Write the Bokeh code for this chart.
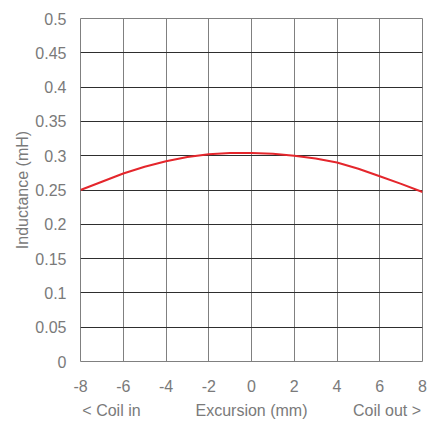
from bokeh.plotting import figure
from bokeh.models import FixedTicker, LinearAxis
from bokeh.embed import file_html
from bokeh.resources import INLINE

# Data
excursion_mm = [-8, -7, -6, -5, -4, -3, -2, -1, 0, 1, 2, 3, 4, 5, 6, 7, 8]
inductance_mh = [0.250, 0.262, 0.274, 0.284, 0.292, 0.298, 0.302, 0.304, 0.304,
                 0.303, 0.300, 0.296, 0.290, 0.281, 0.270, 0.259, 0.247]
x_ticks = [-8, -6, -4, -2, 0, 2, 4, 6, 8]
x_tick_labels = ["-8", "-6", "-4", "-2", "0", "2", "4", "6", "8"]
y_ticks = [0, 0.05, 0.1, 0.15, 0.2, 0.25, 0.3, 0.35, 0.4, 0.45, 0.5]
y_tick_labels = ["0", "0.05", "0.1", "0.15", "0.2", "0.25", "0.3", "0.35", "0.4", "0.45", "0.5"]
bottom_positions = [-6.55, 0.0, 6.34]
bottom_labels = ["< Coil in", "Excursion (mm)", "Coil out >"]

FONT = "Liberation Sans"
TXT = "#7a7a7a"
HGRID = "#2e2e2e"
VGRID = "#808080"

p = figure(frame_width=342, frame_height=343, x_range=(-8, 8), y_range=(0, 0.5),
           output_backend="svg", toolbar_location=None,
           min_border_left=80, min_border_right=5, min_border_top=18, min_border_bottom=0)

p.line(excursion_mm, inductance_mh, line_color="#e4262c", line_width=2)

ax2 = LinearAxis()
p.add_layout(ax2, "below")

for ax in (p.xaxis[0], p.yaxis[0], ax2):
    ax.axis_line_color = None
    ax.major_tick_line_color = None
    ax.minor_tick_line_color = None
    ax.major_label_text_font = FONT
    ax.major_label_text_color = TXT
    ax.major_label_text_font_size = "16px"
    ax.axis_label_text_font = FONT
    ax.axis_label_text_color = TXT
    ax.axis_label_text_font_size = "16px"
    ax.axis_label_text_font_style = "normal"

p.xaxis[0].ticker = FixedTicker(ticks=x_ticks)
p.xaxis[0].major_label_overrides = {t: l for t, l in zip(x_ticks, x_tick_labels)}
p.xaxis[0].major_label_standoff = 12

ax2.ticker = FixedTicker(ticks=bottom_positions)
ax2.major_label_overrides = {t: l for t, l in zip(bottom_positions, bottom_labels)}
ax2.major_label_standoff = 1

p.yaxis.ticker = FixedTicker(ticks=y_ticks)
p.yaxis.major_label_overrides = {t: l for t, l in zip(y_ticks, y_tick_labels)}
p.yaxis.major_label_standoff = 8
p.yaxis.axis_label = "Inductance (mH)"
p.yaxis.axis_label_standoff = 1

p.xgrid.ticker = FixedTicker(ticks=x_ticks)
p.ygrid.ticker = FixedTicker(ticks=y_ticks)
p.xgrid.grid_line_color = VGRID
p.ygrid.grid_line_color = HGRID
p.xgrid.grid_line_alpha = 1
p.ygrid.grid_line_alpha = 1
p.outline_line_color = VGRID
p.outline_line_alpha = 1
p.background_fill_color = "white"
p.border_fill_color = "white"

open("out.html", "w").write(file_html(p, INLINE))
